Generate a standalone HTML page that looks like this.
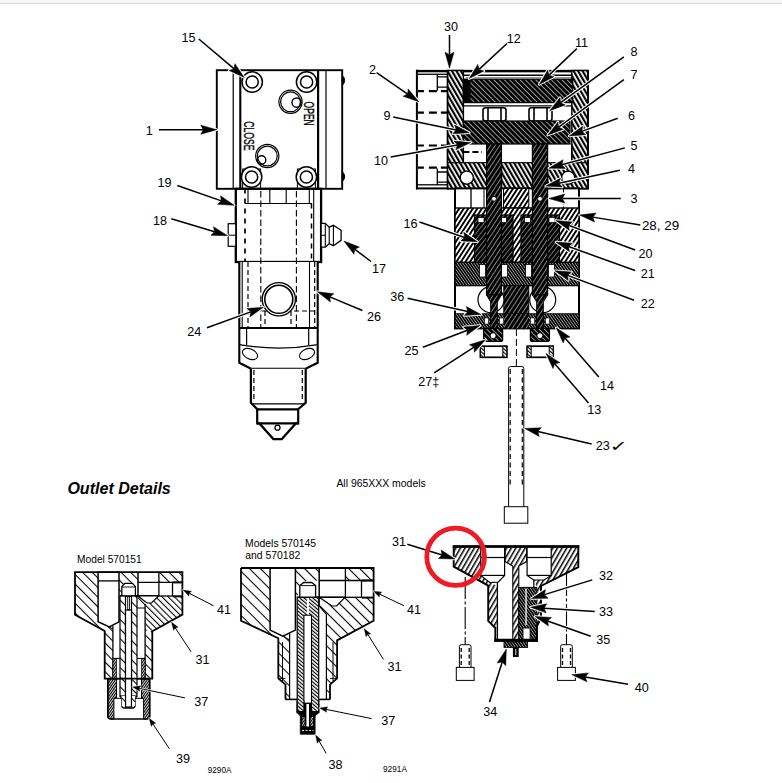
<!DOCTYPE html>
<html lang="en"><head><meta charset="utf-8"><title>Outlet Details</title>
<style>
html,body{margin:0;padding:0;background:#fff;}
body{width:782px;height:783px;overflow:hidden;}
svg{display:block;}
svg text{font-family:"Liberation Sans",Arial,Helvetica,sans-serif;fill:#000;}
</style></head><body>
<svg width="782" height="783" viewBox="0 0 782 783">
<defs>
<pattern id="hl" width="3.8" height="10" patternUnits="userSpaceOnUse" patternTransform="rotate(33)"><rect width="3.8" height="10" fill="#fff"/><rect width="1.9" height="10" fill="#000"/></pattern>
<pattern id="hb" width="3.9" height="10" patternUnits="userSpaceOnUse" patternTransform="rotate(-30)"><rect width="3.9" height="10" fill="#fff"/><rect width="2.15" height="10" fill="#000"/></pattern>
<pattern id="hd" width="3.7" height="10" patternUnits="userSpaceOnUse" patternTransform="rotate(-45)"><rect width="3.7" height="10" fill="#000"/><rect width="0.58" height="10" fill="#fff"/></pattern>
<pattern id="hd2" width="3.8" height="10" patternUnits="userSpaceOnUse" patternTransform="rotate(33)"><rect width="3.8" height="10" fill="#000"/><rect width="0.5" height="10" fill="#fff"/></pattern>
<pattern id="hd4" width="3.6" height="10" patternUnits="userSpaceOnUse" patternTransform="rotate(38)"><rect width="3.6" height="10" fill="#000"/><rect width="0.42" height="10" fill="#fff"/></pattern>
<pattern id="hd3" width="2.3" height="10" patternUnits="userSpaceOnUse" patternTransform="rotate(-35)"><rect width="2.3" height="10" fill="#000"/><rect width="0.5" height="10" fill="#fff"/></pattern>
<pattern id="ho" width="6.8" height="10" patternUnits="userSpaceOnUse" patternTransform="rotate(-45)"><rect width="6.8" height="10" fill="#fff"/><rect width="1.05" height="10" fill="#000"/></pattern>
<pattern id="hf" width="4" height="10" patternUnits="userSpaceOnUse" patternTransform="rotate(30)"><rect width="4" height="10" fill="#fff"/><rect width="1.5" height="10" fill="#000"/></pattern>
<pattern id="ho2" width="4.4" height="10" patternUnits="userSpaceOnUse" patternTransform="rotate(-45)"><rect width="4.4" height="10" fill="#fff"/><rect width="1.05" height="10" fill="#000"/></pattern>
<pattern id="ho3" width="7.8" height="10" patternUnits="userSpaceOnUse" patternTransform="rotate(-45)"><rect width="7.8" height="10" fill="#fff"/><rect width="1.05" height="10" fill="#000"/></pattern>
<pattern id="ht" width="2.8" height="10" patternUnits="userSpaceOnUse" patternTransform="rotate(-50)"><rect width="2.8" height="10" fill="#fff"/><rect width="1.15" height="10" fill="#000"/></pattern>
<pattern id="hn" width="2" height="10" patternUnits="userSpaceOnUse" patternTransform="rotate(35)"><rect width="2" height="10" fill="#fff"/><rect width="1.15" height="10" fill="#000"/></pattern>
</defs>
<rect x="0" y="0" width="782" height="783" fill="#fff"/>
<rect x="0" y="0" width="782" height="3" fill="#f7f7f7"/>
<rect x="0" y="3" width="782" height="1" fill="#d8d8d8"/>
<g id="left-view">
<rect x="216.8" y="70.2" width="125.4" height="118.6" fill="#fff" stroke="#000" stroke-width="1.9"/>
<line x1="233.2" y1="70" x2="233.2" y2="188.5" stroke="#000" stroke-width="1.2" stroke-linecap="butt"/>
<line x1="240.3" y1="70" x2="240.3" y2="188.5" stroke="#000" stroke-width="2.1" stroke-linecap="butt"/>
<line x1="318.1" y1="70" x2="318.1" y2="188.5" stroke="#000" stroke-width="2.2" stroke-linecap="butt"/>
<line x1="326" y1="70" x2="326" y2="188.5" stroke="#000" stroke-width="1.2" stroke-linecap="butt"/>
<path d="M342.2,75.3 q5,5 0,10.3 z" fill="#000" stroke="#000" stroke-width="1"/>
<path d="M342.2,171.5 q5,5 0,10.3 z" fill="#000" stroke="#000" stroke-width="1"/>
<circle cx="252.2" cy="82" r="10.2" fill="#fff" stroke="#000" stroke-width="1.5"/>
<circle cx="252.2" cy="82" r="6.1" fill="none" stroke="#000" stroke-width="1.5"/>
<circle cx="306.6" cy="82" r="10.2" fill="#fff" stroke="#000" stroke-width="1.5"/>
<circle cx="306.6" cy="82" r="6.1" fill="none" stroke="#000" stroke-width="1.5"/>
<rect x="242.6" y="169" width="18" height="19.5" fill="none" stroke="#000" stroke-width="1.0"/>
<circle cx="251.6" cy="177" r="10.2" fill="#fff" stroke="#000" stroke-width="1.5"/>
<circle cx="251.6" cy="177" r="6.1" fill="none" stroke="#000" stroke-width="1.5"/>
<rect x="297.4" y="169" width="18" height="19.5" fill="none" stroke="#000" stroke-width="1.0"/>
<circle cx="306.4" cy="177" r="10.2" fill="#fff" stroke="#000" stroke-width="1.5"/>
<circle cx="306.4" cy="177" r="6.1" fill="none" stroke="#000" stroke-width="1.5"/>
<circle cx="290.5" cy="101.8" r="11.6" fill="none" stroke="#000" stroke-width="1.2"/>
<circle cx="290.5" cy="101.8" r="9.9" fill="none" stroke="#000" stroke-width="1.2"/>
<circle cx="296.6" cy="102.6" r="4.6" fill="none" stroke="#000" stroke-width="1.4"/>
<circle cx="267.3" cy="156" r="11.6" fill="none" stroke="#000" stroke-width="1.2"/>
<circle cx="267.3" cy="156" r="9.9" fill="none" stroke="#000" stroke-width="1.2"/>
<circle cx="261.6" cy="160" r="4.2" fill="none" stroke="#000" stroke-width="1.4"/>
<text transform="translate(304.2,101.6) rotate(90) scale(0.6,1)" font-size="14.2" stroke="#000" stroke-width="0.35">OPEN</text>
<text transform="translate(244.2,121.2) rotate(90) scale(0.61,1)" font-size="14.2" stroke="#000" stroke-width="0.35">CLOSE</text>
<rect x="235.8" y="188.8" width="85.3" height="73.2" fill="#fff" stroke="#000" stroke-width="2.3"/>
<line x1="245" y1="188.5" x2="245" y2="262" stroke="#000" stroke-width="1.7" stroke-dasharray="5 5" stroke-linecap="butt"/>
<line x1="311.5" y1="203.5" x2="311.5" y2="262" stroke="#000" stroke-width="1.5" stroke-dasharray="5 5" stroke-linecap="butt"/>
<line x1="313.7" y1="188.5" x2="313.7" y2="262" stroke="#000" stroke-width="1.1" stroke-linecap="butt"/>
<line x1="245" y1="203.5" x2="312" y2="203.5" stroke="#000" stroke-width="1.2" stroke-linecap="butt"/>
<line x1="248" y1="188.5" x2="248" y2="203.5" stroke="#000" stroke-width="1.1" stroke-linecap="butt"/>
<line x1="269.8" y1="188.5" x2="269.8" y2="203.5" stroke="#000" stroke-width="1.1" stroke-linecap="butt"/>
<line x1="286.2" y1="188.5" x2="286.2" y2="203.5" stroke="#000" stroke-width="1.1" stroke-linecap="butt"/>
<line x1="309.3" y1="188.5" x2="309.3" y2="203.5" stroke="#000" stroke-width="1.1" stroke-linecap="butt"/>
<rect x="228.2" y="223.7" width="7.6" height="22.6" fill="#fff" stroke="#000" stroke-width="1.2"/>
<line x1="228.2" y1="235.2" x2="235.8" y2="235.2" stroke="#000" stroke-width="1.0" stroke-linecap="butt"/>
<path d="M321.1,223.4 H325.3 L329.2,227.2 L333.4,225.3 L341.1,230.3 V240.3 L333.4,245.7 L329.2,243.7 L325.3,247.2 H321.1 z" fill="#fff" stroke="#000" stroke-width="1.3"/>
<path d="M325.3,224 V246.8 M329.2,227.2 V243.7 M333.4,225.3 V245.7 M321.1,235.3 H325.3" fill="none" stroke="#000" stroke-width="1.1"/>
<path d="M239.3,262 V362.8 L250.9,368.8 H305.7 L317.7,362.8 V262" fill="#fff" stroke="#000" stroke-width="2.1"/>
<line x1="242.2" y1="262" x2="242.2" y2="328" stroke="#000" stroke-width="1.1" stroke-linecap="butt"/>
<line x1="248" y1="262" x2="248" y2="328" stroke="#000" stroke-width="1.2" stroke-dasharray="5 3" stroke-linecap="butt"/>
<line x1="246.6" y1="328" x2="246.6" y2="345" stroke="#000" stroke-width="1.2" stroke-linecap="butt"/>
<line x1="309.5" y1="262" x2="309.5" y2="328" stroke="#000" stroke-width="1.1" stroke-linecap="butt"/>
<line x1="308.7" y1="328" x2="308.7" y2="345" stroke="#000" stroke-width="1.2" stroke-linecap="butt"/>
<line x1="314.7" y1="262" x2="314.7" y2="328" stroke="#000" stroke-width="1.2" stroke-dasharray="5 3" stroke-linecap="butt"/>
<line x1="262" y1="311" x2="315" y2="311" stroke="#000" stroke-width="1.2" stroke-dasharray="5 3" stroke-linecap="butt"/>
<line x1="265" y1="311" x2="265" y2="328" stroke="#000" stroke-width="1.2" stroke-dasharray="5 3" stroke-linecap="butt"/>
<line x1="291" y1="311" x2="291" y2="328" stroke="#000" stroke-width="1.2" stroke-dasharray="5 3" stroke-linecap="butt"/>
<line x1="260.8" y1="191" x2="260.8" y2="328" stroke="#000" stroke-width="1.1" stroke-dasharray="6.5 3" stroke-linecap="butt"/>
<line x1="296.4" y1="191" x2="296.4" y2="328" stroke="#000" stroke-width="1.1" stroke-dasharray="6.5 3" stroke-linecap="butt"/>
<line x1="239.3" y1="328" x2="317.7" y2="328" stroke="#000" stroke-width="1.9" stroke-linecap="butt"/>
<circle cx="278.8" cy="299.3" r="16.6" fill="#fff" stroke="#000" stroke-width="1.3"/>
<circle cx="278.8" cy="299.3" r="14" fill="none" stroke="#000" stroke-width="1.6"/>
<path d="M239.3,344.6 Q278.5,351.5 317.7,344.6" fill="none" stroke="#000" stroke-width="1.2"/>
<ellipse cx="250" cy="354" rx="8" ry="5" transform="rotate(25 250 354)" fill="#fff" stroke="#000" stroke-width="1.1"/>
<ellipse cx="307" cy="354" rx="8" ry="5" transform="rotate(-25 307 354)" fill="#fff" stroke="#000" stroke-width="1.1"/>
<path d="M250.9,368.8 V402.7 L257.2,409.2 V423.4 H259.4 L273.4,439.1 H281.8 L295.8,423.4 H298.2 V409.2 L305.7,402.7 V368.8" fill="#fff" stroke="#000" stroke-width="2.2"/>
<line x1="253.9" y1="370" x2="253.9" y2="402" stroke="#000" stroke-width="1.2" stroke-dasharray="5 3" stroke-linecap="butt"/>
<line x1="302.3" y1="370" x2="302.3" y2="402" stroke="#000" stroke-width="1.2" stroke-dasharray="5 3" stroke-linecap="butt"/>
<line x1="252" y1="403.9" x2="304.6" y2="403.9" stroke="#000" stroke-width="1.3" stroke-linecap="butt"/>
<line x1="256.5" y1="409.3" x2="299" y2="409.3" stroke="#000" stroke-width="2.3" stroke-linecap="butt"/>
<line x1="257" y1="423.3" x2="298.5" y2="423.3" stroke="#000" stroke-width="2.3" stroke-linecap="butt"/>
<circle cx="277.5" cy="427.7" r="2.5" fill="#fff" stroke="#000" stroke-width="1.3"/>
</g>
<g id="section-view">
<rect x="416.9" y="70.7" width="31" height="117.7" fill="#fff"/>
<line x1="416.9" y1="69.7" x2="416.9" y2="189.4" stroke="#000" stroke-width="2.0" stroke-linecap="butt"/>
<line x1="416" y1="71.1" x2="448" y2="71.1" stroke="#000" stroke-width="2.4" stroke-linecap="butt"/>
<line x1="416" y1="188.4" x2="448" y2="188.4" stroke="#000" stroke-width="2.0" stroke-linecap="butt"/>
<line x1="417" y1="74.3" x2="447.9" y2="74.3" stroke="#000" stroke-width="1.3" stroke-linecap="butt"/>
<line x1="417" y1="184.8" x2="447.9" y2="184.8" stroke="#000" stroke-width="1.3" stroke-linecap="butt"/>
<path d="M437.3,74.3 V90.7 M437.3,76.9 H447.9 M437.3,87.1 H447.9" fill="none" stroke="#000" stroke-width="1.3"/>
<path d="M437.3,184.8 V168.4 M437.3,182.2 H447.9 M437.3,172 H447.9" fill="none" stroke="#000" stroke-width="1.3"/>
<line x1="417.9" y1="91.2" x2="447.5" y2="91.2" stroke="#000" stroke-width="2.2" stroke-dasharray="6 5 8 4 7 4" stroke-linecap="butt"/>
<line x1="417.9" y1="112.7" x2="447.5" y2="112.7" stroke="#000" stroke-width="2.2" stroke-dasharray="6 5 8 4 7 4" stroke-linecap="butt"/>
<line x1="417.9" y1="145.5" x2="447.5" y2="145.5" stroke="#000" stroke-width="2.2" stroke-dasharray="6 5 8 4 7 4" stroke-linecap="butt"/>
<line x1="417.9" y1="167.7" x2="447.5" y2="167.7" stroke="#000" stroke-width="2.2" stroke-dasharray="6 5 8 4 7 4" stroke-linecap="butt"/>
<rect x="447.9" y="71.1" width="139.8" height="117.3" fill="#fff" stroke="#000" stroke-width="2.5"/>
<rect x="447.7" y="70.5" width="15.7" height="117.9" fill="url(#hb)" stroke="#000" stroke-width="1.4"/>
<rect x="571.8" y="70.5" width="15.9" height="117.9" fill="url(#hb)" stroke="#000" stroke-width="1.4"/>
<line x1="463.4" y1="75.3" x2="571.8" y2="75.3" stroke="#000" stroke-width="1.4" stroke-linecap="butt"/>
<line x1="466" y1="77.8" x2="571.8" y2="77.8" stroke="#000" stroke-width="0.6" stroke-linecap="butt"/>
<rect x="463.4" y="79.2" width="109.4" height="23.4" fill="url(#hd)" stroke="#000" stroke-width="1.2"/>
<rect x="463.4" y="79.2" width="7.1" height="23.4" fill="#000"/>
<line x1="463.4" y1="105.9" x2="571.8" y2="105.9" stroke="#000" stroke-width="1.3" stroke-linecap="butt"/>
<rect x="483" y="107.8" width="23" height="13.2" fill="#fff" stroke="#000" stroke-width="1.6" rx="2.5"/>
<line x1="488" y1="108" x2="488" y2="121" stroke="#000" stroke-width="1.6" stroke-linecap="butt"/>
<line x1="501" y1="108" x2="501" y2="121" stroke="#000" stroke-width="1.6" stroke-linecap="butt"/>
<rect x="529" y="107.8" width="23" height="13.2" fill="#fff" stroke="#000" stroke-width="1.6" rx="2.5"/>
<line x1="534" y1="108" x2="534" y2="121" stroke="#000" stroke-width="1.6" stroke-linecap="butt"/>
<line x1="547" y1="108" x2="547" y2="121" stroke="#000" stroke-width="1.6" stroke-linecap="butt"/>
<rect x="463.4" y="121" width="106.6" height="23" fill="url(#hd)" stroke="#000" stroke-width="1.2"/>
<rect x="447.7" y="162.7" width="39.1" height="25.7" fill="url(#hb)" stroke="#000" stroke-width="1.2"/>
<rect x="501.7" y="162.7" width="31" height="25.7" fill="url(#hb)" stroke="#000" stroke-width="1.2"/>
<rect x="547.6" y="162.7" width="40.1" height="25.7" fill="url(#hb)" stroke="#000" stroke-width="1.2"/>
<line x1="463.4" y1="144" x2="463.4" y2="162.7" stroke="#000" stroke-width="1.2" stroke-linecap="butt"/>
<line x1="571.8" y1="144" x2="571.8" y2="162.7" stroke="#000" stroke-width="1.2" stroke-linecap="butt"/>
<line x1="463.4" y1="152" x2="482" y2="152" stroke="#000" stroke-width="1.8" stroke-dasharray="6 3" stroke-linecap="butt"/>
<circle cx="466.8" cy="177.7" r="6.6" fill="#fff" stroke="#000" stroke-width="1.4"/>
<circle cx="568.2" cy="177.7" r="6.6" fill="#fff" stroke="#000" stroke-width="1.4"/>
<rect x="455" y="188.4" width="124" height="140" fill="#fff" stroke="#000" stroke-width="2.0"/>
<line x1="471" y1="188.4" x2="471" y2="208" stroke="#000" stroke-width="1.3" stroke-linecap="butt"/>
<line x1="484" y1="188.4" x2="484" y2="208" stroke="#000" stroke-width="1.0" stroke-linecap="butt"/>
<line x1="563.5" y1="188.4" x2="563.5" y2="208" stroke="#000" stroke-width="1.0" stroke-dasharray="4 2" stroke-linecap="butt"/>
<rect x="503.5" y="188.4" width="25.3" height="19.6" fill="url(#hl)" stroke="#000" stroke-width="1.0"/>
<rect x="455" y="208" width="124" height="54.4" fill="url(#hl)" stroke="#000" stroke-width="1.4"/>
<rect x="474.5" y="215" width="38.5" height="47.4" fill="url(#hd4)" stroke="#000" stroke-width="1.2"/>
<rect x="521" y="215" width="38.5" height="47.4" fill="url(#hd4)" stroke="#000" stroke-width="1.2"/>
<rect x="478" y="217.5" width="6" height="5" fill="#fff" stroke="#000" stroke-width="0.8"/>
<rect x="500.5" y="217.5" width="6" height="5" fill="#fff" stroke="#000" stroke-width="0.8"/>
<rect x="524.5" y="217.5" width="6" height="5" fill="#fff" stroke="#000" stroke-width="0.8"/>
<rect x="549" y="217.5" width="6" height="5" fill="#fff" stroke="#000" stroke-width="0.8"/>
<rect x="455" y="262.4" width="124" height="23.3" fill="url(#hd3)" stroke="#000" stroke-width="1.2"/>
<rect x="479.5" y="264.5" width="6" height="12.5" fill="#fff" stroke="#000" stroke-width="0.8"/>
<rect x="501.5" y="264.5" width="6" height="12.5" fill="#fff" stroke="#000" stroke-width="0.8"/>
<rect x="525.5" y="264.5" width="6" height="12.5" fill="#fff" stroke="#000" stroke-width="0.8"/>
<rect x="548.5" y="264.5" width="6" height="12.5" fill="#fff" stroke="#000" stroke-width="0.8"/>
<rect x="503.8" y="285.7" width="25" height="28.1" fill="url(#hd2)" stroke="#000" stroke-width="1.0"/>
<circle cx="491" cy="299.7" r="13" fill="#fff" stroke="#000" stroke-width="1.2"/>
<circle cx="542.7" cy="299.7" r="13" fill="#fff" stroke="#000" stroke-width="1.2"/>
<rect x="455" y="313.8" width="124" height="14.6" fill="url(#hd3)" stroke="#000" stroke-width="1.0"/>
<rect x="503.8" y="313.8" width="25" height="14.6" fill="url(#hd2)"/>
<rect x="486.6" y="144" width="14.8" height="151" fill="url(#hd2)" stroke="#000" stroke-width="1.2"/>
<polygon points="486.6,295 501.4,295 497.3,302 497.3,328.4 490.7,328.4 490.7,302" fill="url(#hd2)" stroke="#000" stroke-width="1.0" stroke-linejoin="miter"/>
<circle cx="494" cy="198.8" r="2.4" fill="#fff" stroke="#000" stroke-width="0.8"/>
<rect x="484.5" y="318" width="4" height="6" fill="#fff" stroke="#000" stroke-width="0.6"/>
<rect x="499.5" y="318" width="4" height="6" fill="#fff" stroke="#000" stroke-width="0.6"/>
<rect x="532.4" y="144" width="15.2" height="151" fill="url(#hd2)" stroke="#000" stroke-width="1.2"/>
<polygon points="532.4,295 547.6,295 543.3,302 543.3,328.4 536.7,328.4 536.7,302" fill="url(#hd2)" stroke="#000" stroke-width="1.0" stroke-linejoin="miter"/>
<circle cx="540" cy="198.8" r="2.4" fill="#fff" stroke="#000" stroke-width="0.8"/>
<rect x="530.5" y="318" width="4" height="6" fill="#fff" stroke="#000" stroke-width="0.6"/>
<rect x="545.5" y="318" width="4" height="6" fill="#fff" stroke="#000" stroke-width="0.6"/>
<rect x="483.6" y="328.4" width="19" height="13" fill="url(#hd)" stroke="#000" stroke-width="1.3" rx="1.5"/>
<circle cx="493.1" cy="335.7" r="3" fill="#fff" stroke="#000" stroke-width="1.0"/>
<rect x="530.4" y="328.4" width="19" height="13" fill="url(#hd)" stroke="#000" stroke-width="1.3" rx="1.5"/>
<circle cx="539.9" cy="335.7" r="3" fill="#fff" stroke="#000" stroke-width="1.0"/>
<rect x="480.4" y="346.2" width="26.4" height="11.1" fill="#fff" stroke="#000" stroke-width="1.7"/>
<rect x="480.4" y="346.2" width="4" height="11.1" fill="url(#ht)" stroke="#000" stroke-width="1.0"/>
<rect x="502.8" y="346.2" width="4" height="11.1" fill="url(#ht)" stroke="#000" stroke-width="1.0"/>
<rect x="527.2" y="346.2" width="26" height="11.1" fill="#fff" stroke="#000" stroke-width="1.7"/>
<rect x="527.2" y="346.2" width="4" height="11.1" fill="url(#ht)" stroke="#000" stroke-width="1.0"/>
<rect x="549.2" y="346.2" width="4" height="11.1" fill="url(#ht)" stroke="#000" stroke-width="1.0"/>
<line x1="516.4" y1="329" x2="516.4" y2="366.5" stroke="#000" stroke-width="1.0" stroke-dasharray="7 3" stroke-linecap="butt"/>
<path d="M508.6,506.7 V368.5 q0,-2 2,-2 H521.8 q2,0 2,2 V506.7" fill="#fff" stroke="#000" stroke-width="1.0"/>
<line x1="510.2" y1="369" x2="510.2" y2="486" stroke="#000" stroke-width="1.2" stroke-dasharray="5 3.5" stroke-linecap="butt"/>
<line x1="522.3" y1="369" x2="522.3" y2="486" stroke="#000" stroke-width="1.2" stroke-dasharray="5 3.5" stroke-linecap="butt"/>
<rect x="504.3" y="506.7" width="23.5" height="16.5" fill="#fff" stroke="#000" stroke-width="1.0"/>
</g>
<g id="outlet-c">
<polygon points="453.7,546.5 578.3,546.5 578.3,567.2 541,586 541,618 537,626 537,640.8 495.3,640.8 495.3,628 488.2,620.8 488.2,585.6 453.7,566.7" fill="#fff"/>
<polygon points="453.7,546.5 480.8,546.5 480.8,575.4 490,582.6 497.4,586 497.4,628 495.3,628 488.2,620.8 488.2,585.6 453.7,566.7" fill="url(#hf)"/>
<polygon points="505.1,546.5 526.6,546.5 526.6,561.6 518.8,566 518.8,640 512.8,640 512.8,566 505.1,561.6" fill="url(#hf)" stroke="#000" stroke-width="1.1" stroke-linejoin="miter"/>
<polygon points="551.2,546.5 578.3,546.5 578.3,567.2 541,586 541,618 537,626 537,588 533.8,580 544,578 551.2,575.4" fill="url(#hf)"/>
<polygon points="480.8,546.5 504.6,546.5 504.6,575.4 498.4,582 490,582.6 480.8,575.4" fill="#fff" stroke="#000" stroke-width="1.2" stroke-linejoin="miter"/>
<line x1="480.8" y1="557.5" x2="504.6" y2="557.5" stroke="#000" stroke-width="1.2" stroke-linecap="butt"/>
<line x1="480.8" y1="575.4" x2="504.6" y2="575.4" stroke="#000" stroke-width="1.2" stroke-linecap="butt"/>
<line x1="497.4" y1="582" x2="497.4" y2="639" stroke="#000" stroke-width="1.3" stroke-linecap="butt"/>
<polygon points="527.1,546.5 551.2,546.5 551.2,575.4 544,580 533.8,580 527.1,575.4" fill="#fff" stroke="#000" stroke-width="1.2" stroke-linejoin="miter"/>
<line x1="527.1" y1="557.5" x2="551.2" y2="557.5" stroke="#000" stroke-width="1.2" stroke-linecap="butt"/>
<line x1="527.1" y1="575.4" x2="551.2" y2="575.4" stroke="#000" stroke-width="1.2" stroke-linecap="butt"/>
<line x1="533.8" y1="580" x2="533.8" y2="588" stroke="#000" stroke-width="1.2" stroke-linecap="butt"/>
<rect x="518.8" y="587.4" width="18" height="53.1" fill="url(#hd3)" stroke="#000" stroke-width="1.0"/>
<rect x="525.4" y="588.5" width="1.3" height="36.5" fill="#fff"/>
<rect x="523" y="628" width="7.1" height="12.2" fill="#fff" stroke="#000" stroke-width="0.9"/>
<polygon points="453.7,546.5 578.3,546.5 578.3,567.2 541,586 541,618 537,626 537,640.8 495.3,640.8 495.3,628 488.2,620.8 488.2,585.6 453.7,566.7" fill="none" stroke="#000" stroke-width="1.9" stroke-linejoin="miter"/>
<line x1="452.7" y1="546.5" x2="579.3" y2="546.5" stroke="#000" stroke-width="2.6" stroke-linecap="butt"/>
<line x1="494.3" y1="640.2" x2="538" y2="640.2" stroke="#000" stroke-width="3.0" stroke-linecap="butt"/>
<rect x="504" y="641.8" width="23.6" height="5.6" fill="url(#hd3)" stroke="#000" stroke-width="0.9"/>
<rect x="512.9" y="647.4" width="5.8" height="9.6" fill="#000"/>
<line x1="515.8" y1="649" x2="515.8" y2="655" stroke="#fff" stroke-width="0.9" stroke-linecap="butt"/>
<line x1="465.2" y1="577" x2="465.2" y2="644.5" stroke="#000" stroke-width="1.1" stroke-dasharray="22 2.5 3 2.5" stroke-linecap="butt"/>
<line x1="566.5" y1="574" x2="566.5" y2="644.5" stroke="#000" stroke-width="1.1" stroke-dasharray="22 2.5 3 2.5" stroke-linecap="butt"/>
<path d="M459.4,667.4 V646.5 q0,-1.8 1.8,-1.8 H469.2 q1.8,0 1.8,1.8 V667.4" fill="#fff" stroke="#000" stroke-width="1.0"/>
<line x1="461.2" y1="648" x2="461.2" y2="666" stroke="#000" stroke-width="1.3" stroke-dasharray="4 2.5" stroke-linecap="butt"/>
<line x1="469.2" y1="648" x2="469.2" y2="666" stroke="#000" stroke-width="1.3" stroke-dasharray="4 2.5" stroke-linecap="butt"/>
<rect x="456.3" y="667.4" width="17.8" height="13" fill="#fff" stroke="#000" stroke-width="1.0"/>
<path d="M560.7,667.4 V646.5 q0,-1.8 1.8,-1.8 H570.5 q1.8,0 1.8,1.8 V667.4" fill="#fff" stroke="#000" stroke-width="1.0"/>
<line x1="562.5" y1="648" x2="562.5" y2="666" stroke="#000" stroke-width="1.3" stroke-dasharray="4 2.5" stroke-linecap="butt"/>
<line x1="570.5" y1="648" x2="570.5" y2="666" stroke="#000" stroke-width="1.3" stroke-dasharray="4 2.5" stroke-linecap="butt"/>
<rect x="557.6" y="667.4" width="17.8" height="13" fill="#fff" stroke="#000" stroke-width="1.0"/>
</g>
<g id="outlet-a">
<polygon points="75,572.2 182.4,572.2 182.4,614.6 152.3,631.3 152.3,678.7 104.7,678.7 104.7,631 75,614.8" fill="#fff"/>
<polygon points="75,572.2 98.1,572.2 98.1,621.8 109.3,626.9 112.9,625.5 112.9,678.7 104.7,678.7 104.7,631 75,614.8" fill="url(#ho)"/>
<polygon points="119,572.2 138,572.2 138,582.4 126,583.4 122,587 120,596 119,596" fill="url(#ho)"/>
<rect x="158.9" y="572.2" width="23.5" height="10" fill="url(#ho)"/>
<polygon points="138,596 182.4,596 182.4,614.6 152.3,631.3 145.1,631.3 145.1,610 140,603 138,600" fill="url(#ho2)"/>
<rect x="145.1" y="631.3" width="7.2" height="47.4" fill="url(#ho)"/>
<polygon points="98.1,572.2 119,572.2 119,621.8 109.3,626.9 98.1,621.8" fill="#fff" stroke="#000" stroke-width="1.5" stroke-linejoin="miter"/>
<line x1="98.1" y1="580.9" x2="119" y2="580.9" stroke="#000" stroke-width="1.3" stroke-linecap="butt"/>
<line x1="112.9" y1="626" x2="112.9" y2="678.7" stroke="#000" stroke-width="1.3" stroke-linecap="butt"/>
<line x1="109.3" y1="626.9" x2="112.9" y2="629" stroke="#000" stroke-width="1.0" stroke-linecap="butt"/>
<line x1="138" y1="572.2" x2="138" y2="596" stroke="#000" stroke-width="1.5" stroke-linecap="butt"/>
<line x1="158.9" y1="572.2" x2="158.9" y2="596" stroke="#000" stroke-width="1.3" stroke-linecap="butt"/>
<line x1="138" y1="582.4" x2="182.4" y2="582.4" stroke="#000" stroke-width="1.3" stroke-linecap="butt"/>
<line x1="172.5" y1="582.4" x2="172.5" y2="596" stroke="#000" stroke-width="1.3" stroke-linecap="butt"/>
<line x1="172.5" y1="582.4" x2="182.4" y2="582.4" stroke="#000" stroke-width="2.0" stroke-linecap="butt"/>
<line x1="172.5" y1="596.3" x2="182.4" y2="596.3" stroke="#000" stroke-width="2.0" stroke-linecap="butt"/>
<line x1="120" y1="596" x2="158.9" y2="596" stroke="#000" stroke-width="1.8" stroke-linecap="butt"/>
<line x1="158.9" y1="596" x2="172.5" y2="596" stroke="#000" stroke-width="1.3" stroke-linecap="butt"/>
<polygon points="138,596 158.6,596 151.5,603 147,603" fill="#fff" stroke="#000" stroke-width="1.2" stroke-linejoin="miter"/>
<path d="M121.8,596 V586.5 l3,-3.1 h7.6 l3,3.1 V596 z" fill="#fff" stroke="#000" stroke-width="1.3"/>
<line x1="122" y1="587" x2="135.4" y2="587" stroke="#000" stroke-width="0.9" stroke-linecap="butt"/>
<path d="M107.8,678.7 H149.7 V716 q0,3 -3,3 H110.8 q-3,0 -3,-3 z" fill="#fff"/>
<path d="M107.8,678.7 H116.5 V698.3 H113.9 V719 H110.8 q-3,0 -3,-3 z" fill="url(#hn)" stroke="#000" stroke-width="1.0"/>
<path d="M149.7,678.7 H141.5 V698.3 H143.6 V719 H146.7 q3,0 3,-3 z" fill="url(#hn)" stroke="#000" stroke-width="1.0"/>
<path d="M107.8,678.7 H149.7 V716 q0,3 -3,3 H110.8 q-3,0 -3,-3 z" fill="none" stroke="#000" stroke-width="1.6"/>
<line x1="113.9" y1="698.3" x2="121" y2="698.3" stroke="#000" stroke-width="1.0" stroke-linecap="butt"/>
<line x1="136" y1="698.3" x2="143.6" y2="698.3" stroke="#000" stroke-width="1.0" stroke-linecap="butt"/>
<line x1="116.5" y1="679" x2="116.5" y2="698" stroke="#000" stroke-width="0.9" stroke-dasharray="3 2" stroke-linecap="butt"/>
<line x1="141.5" y1="679" x2="141.5" y2="698" stroke="#000" stroke-width="0.9" stroke-dasharray="3 2" stroke-linecap="butt"/>
<line x1="114.5" y1="709.5" x2="117.5" y2="709.5" stroke="#fff" stroke-width="1.0" stroke-linecap="butt"/>
<line x1="140" y1="709.5" x2="143" y2="709.5" stroke="#fff" stroke-width="1.0" stroke-linecap="butt"/>
<rect x="120" y="596" width="5.5" height="100" fill="url(#ho)" stroke="#000" stroke-width="1.2"/>
<rect x="131.5" y="596" width="5.5" height="100" fill="url(#ho)" stroke="#000" stroke-width="1.2"/>
<rect x="125.5" y="610" width="6" height="97" fill="#fff" stroke="#000" stroke-width="1.2"/>
<rect x="127.7" y="596.5" width="1.7" height="13.5" fill="#fff" stroke="#000" stroke-width="0.9"/>
<line x1="137" y1="608" x2="145.1" y2="608" stroke="#000" stroke-width="1.0" stroke-linecap="butt"/>
<line x1="145.1" y1="604" x2="145.1" y2="678.7" stroke="#000" stroke-width="1.3" stroke-linecap="butt"/>
<path d="M120,696 L121.8,699 V705.5 q0,2.5 2.5,2.5 H132.5 q2.5,0 2.5,-2.5 V699 L137,696" fill="none" stroke="#000" stroke-width="1.3"/>
<rect x="121.8" y="696" width="3.7" height="10" fill="url(#ho)"/>
<rect x="131.5" y="696" width="3.5" height="10" fill="url(#ho)"/>
<line x1="125.5" y1="696" x2="125.5" y2="707" stroke="#000" stroke-width="1.1" stroke-linecap="butt"/>
<line x1="131.5" y1="696" x2="131.5" y2="707" stroke="#000" stroke-width="1.1" stroke-linecap="butt"/>
<rect x="112.9" y="658.4" width="3.6" height="20.3" fill="url(#hn)" stroke="#000" stroke-width="0.7"/>
<rect x="141.5" y="658.4" width="3.6" height="20.3" fill="url(#hn)" stroke="#000" stroke-width="0.7"/>
<line x1="112.9" y1="658.4" x2="120" y2="658.4" stroke="#000" stroke-width="1.0" stroke-linecap="butt"/>
<line x1="137" y1="658.4" x2="145.1" y2="658.4" stroke="#000" stroke-width="1.0" stroke-linecap="butt"/>
<polygon points="75,572.2 182.4,572.2 182.4,614.6 152.3,631.3 152.3,678.7 104.7,678.7 104.7,631 75,614.8" fill="none" stroke="#000" stroke-width="1.8" stroke-linejoin="miter"/>
</g>
<g id="outlet-b">
<polygon points="241,568 373.6,568 373.6,620.8 337.1,640.4 337.1,678.4 330,684.6 330,699.4 285.5,699.4 285.5,684.6 278.3,678.4 278.3,638.2 241,620.8" fill="#fff"/>
<polygon points="241,568 270.1,568 270.1,630.1 282.9,636.2 289.6,633 289.6,699.4 285.5,699.4 285.5,684.6 278.3,678.4 278.3,638.2 241,620.8" fill="url(#ho3)"/>
<polygon points="295.4,568 319.2,568 319.2,580.5 305,581 299,585.5 297.4,597.3 295.4,597.3" fill="url(#ho3)"/>
<rect x="345.4" y="568" width="28.2" height="12.5" fill="url(#ho3)"/>
<polygon points="319.2,597.3 373.6,597.3 373.6,620.8 337.1,640.4 337.1,678.4 330,684.6 330,699.4 326.4,699.4 326.4,614.2 321,609 319.2,604" fill="url(#ho3)"/>
<polygon points="270.1,568 295.4,568 295.4,630.1 282.9,636.2 270.1,630.1" fill="#fff" stroke="#000" stroke-width="1.5" stroke-linejoin="miter"/>
<line x1="289.6" y1="633" x2="289.6" y2="699.4" stroke="#000" stroke-width="1.2" stroke-linecap="butt"/>
<line x1="282.9" y1="636.2" x2="289.6" y2="640" stroke="#000" stroke-width="1.0" stroke-linecap="butt"/>
<line x1="282.5" y1="642" x2="282.5" y2="681" stroke="#000" stroke-width="1.0" stroke-linecap="butt"/>
<line x1="333" y1="642" x2="333" y2="681" stroke="#000" stroke-width="1.0" stroke-linecap="butt"/>
<line x1="278.3" y1="678.4" x2="285.5" y2="678.4" stroke="#000" stroke-width="0.9" stroke-linecap="butt"/>
<line x1="330" y1="678.4" x2="337.1" y2="678.4" stroke="#000" stroke-width="0.9" stroke-linecap="butt"/>
<line x1="319.2" y1="568" x2="319.2" y2="597.3" stroke="#000" stroke-width="1.5" stroke-linecap="butt"/>
<line x1="345.4" y1="568" x2="345.4" y2="597.3" stroke="#000" stroke-width="1.3" stroke-linecap="butt"/>
<line x1="319.2" y1="580.5" x2="373.6" y2="580.5" stroke="#000" stroke-width="1.3" stroke-linecap="butt"/>
<line x1="361.5" y1="580.5" x2="361.5" y2="597.3" stroke="#000" stroke-width="1.3" stroke-linecap="butt"/>
<line x1="361.5" y1="580.5" x2="373.6" y2="580.5" stroke="#000" stroke-width="2.0" stroke-linecap="butt"/>
<line x1="361.5" y1="597.6" x2="373.6" y2="597.6" stroke="#000" stroke-width="2.0" stroke-linecap="butt"/>
<line x1="297.2" y1="597.3" x2="345.4" y2="597.3" stroke="#000" stroke-width="1.8" stroke-linecap="butt"/>
<line x1="345.4" y1="597.3" x2="361.5" y2="597.3" stroke="#000" stroke-width="1.3" stroke-linecap="butt"/>
<polygon points="319.2,597.3 345,597.3 336.6,606 332,606" fill="#fff" stroke="#000" stroke-width="1.2" stroke-linejoin="miter"/>
<path d="M299.8,597.3 V585.6 l4,-3.1 h7.8 l4,3.1 V597.3 z" fill="#fff" stroke="#000" stroke-width="1.3"/>
<line x1="299.8" y1="585.6" x2="315.6" y2="585.6" stroke="#000" stroke-width="0.9" stroke-linecap="butt"/>
<path d="M319.2,598 V606 L326.4,614.2 V699.4" fill="none" stroke="#000" stroke-width="1.2"/>
<rect x="297.2" y="597.3" width="21.5" height="115.4" fill="url(#ht)" stroke="#000" stroke-width="1.2"/>
<rect x="307" y="598" width="2" height="18" fill="#fff"/>
<rect x="303.9" y="615.2" width="7.6" height="88.8" fill="#fff" stroke="#000" stroke-width="1.1"/>
<path d="M297.2,712.7 V704 H303.9 V703 H311.5 V704 H318.7 V712.7 L315.1,716 V734.2 H300.3 V716 z" fill="#000" stroke="#000" stroke-width="0.8"/>
<rect x="297.2" y="700" width="6.7" height="11" fill="url(#ht)"/>
<rect x="311.5" y="700" width="7.2" height="11" fill="url(#ht)"/>
<line x1="297.2" y1="700" x2="297.2" y2="712.5" stroke="#000" stroke-width="1.2" stroke-linecap="butt"/>
<line x1="318.7" y1="700" x2="318.7" y2="712.5" stroke="#000" stroke-width="1.2" stroke-linecap="butt"/>
<line x1="303.9" y1="700" x2="303.9" y2="712" stroke="#000" stroke-width="1.0" stroke-linecap="butt"/>
<line x1="311.5" y1="700" x2="311.5" y2="712" stroke="#000" stroke-width="1.0" stroke-linecap="butt"/>
<rect x="306.4" y="704" width="2.6" height="22.5" fill="#fff"/>
<rect x="302.3" y="717" width="2.3" height="9" fill="url(#hn)"/>
<rect x="310.6" y="717" width="2.4" height="9" fill="url(#hn)"/>
<line x1="302" y1="730.5" x2="313.5" y2="730.5" stroke="#fff" stroke-width="0.9" stroke-dasharray="2 1.5" stroke-linecap="butt"/>
<polyline points="241,568 373.6,568 373.6,620.8 337.1,640.4 337.1,678.4 330,684.6 330,699.4" fill="none" stroke="#000" stroke-width="1.8" stroke-linejoin="miter"/>
<polyline points="285.5,699.4 285.5,684.6 278.3,678.4 278.3,638.2 241,620.8 241,568" fill="none" stroke="#000" stroke-width="1.8" stroke-linejoin="miter"/>
<line x1="285.5" y1="699.4" x2="297.2" y2="699.4" stroke="#000" stroke-width="1.6" stroke-linecap="butt"/>
<line x1="318.7" y1="699.4" x2="330" y2="699.4" stroke="#000" stroke-width="1.6" stroke-linecap="butt"/>
</g>
<g id="labels">
<text x="181.4" y="41.5" font-size="12.6">15</text>
<text x="145.7" y="134.7" font-size="12.6">1</text>
<text x="157.6" y="186.5" font-size="12.6">19</text>
<text x="153" y="224.8" font-size="12.6">18</text>
<text x="187.3" y="335.7" font-size="12.6">24</text>
<text x="372" y="273.2" font-size="12.6">17</text>
<text x="366.9" y="320.9" font-size="12.6">26</text>
<text x="443.9" y="31" font-size="12.6">30</text>
<text x="506.7" y="43.2" font-size="12.6">12</text>
<text x="574.9" y="46.6" font-size="12.6">11</text>
<text x="369" y="73.9" font-size="12.6">2</text>
<text x="383.5" y="120" font-size="12.6">9</text>
<text x="373.9" y="164.7" font-size="12.6">10</text>
<text x="630.6" y="56.2" font-size="12.6">8</text>
<text x="630.6" y="79.3" font-size="12.6">7</text>
<text x="628" y="119.8" font-size="12.6">6</text>
<text x="630.6" y="149.9" font-size="12.6">5</text>
<text x="628" y="172.7" font-size="12.6">4</text>
<text x="630.6" y="202.6" font-size="12.6">3</text>
<text x="641.9" y="229.6" font-size="12.6" textLength="37.2" lengthAdjust="spacingAndGlyphs">28, 29</text>
<text x="638.6" y="257.8" font-size="12.6">20</text>
<text x="640.7" y="277.6" font-size="12.6">21</text>
<text x="640.7" y="307.7" font-size="12.6">22</text>
<text x="403.6" y="227.6" font-size="12.6">16</text>
<text x="390.2" y="300.7" font-size="12.6">36</text>
<text x="404.5" y="354.5" font-size="12.6">25</text>
<text x="418.2" y="385.5" font-size="12.6">27‡</text>
<text x="599.9" y="389.8" font-size="12.6">14</text>
<text x="587.2" y="413.7" font-size="12.6">13</text>
<text x="595.7" y="450.2" font-size="12.6">23</text>
<text transform="translate(609.4,450.6) scale(1.5,1)" font-size="14.5" style="font-family:'DejaVu Sans',sans-serif">✓</text>
<text x="67.4" y="493.8" font-size="16" font-weight="bold" font-style="italic" textLength="103.4" lengthAdjust="spacingAndGlyphs">Outlet Details</text>
<text x="336.4" y="487" font-size="10.4" textLength="89.4" lengthAdjust="spacingAndGlyphs">All 965XXX models</text>
<text x="77.1" y="562.8" font-size="10.4" textLength="64.6" lengthAdjust="spacingAndGlyphs">Model 570151</text>
<text x="245.1" y="546.6" font-size="10.4">Models 570145</text>
<text x="245.3" y="558.6" font-size="10.4">and 570182</text>
<text x="391.9" y="545.5" font-size="12.6">31</text>
<text x="598.9" y="579.9" font-size="12.6">32</text>
<text x="598.9" y="615.7" font-size="12.6">33</text>
<text x="596.2" y="644.4" font-size="12.6">35</text>
<text x="634.7" y="691.8" font-size="12.6">40</text>
<text x="483.3" y="715.7" font-size="12.6">34</text>
<text x="217.1" y="613.6" font-size="12.6">41</text>
<text x="195.6" y="663.7" font-size="12.6">31</text>
<text x="194.2" y="706" font-size="12.6">37</text>
<text x="176.1" y="762.6" font-size="12.6">39</text>
<text x="207.8" y="773" font-size="8.3" textLength="23.6" lengthAdjust="spacingAndGlyphs">9290A</text>
<text x="407" y="613.8" font-size="12.6">41</text>
<text x="387.4" y="670.7" font-size="12.6">31</text>
<text x="381.2" y="725.3" font-size="12.6">37</text>
<text x="328.6" y="769.3" font-size="12.6">38</text>
<text x="383" y="772.1" font-size="8.3" textLength="24" lengthAdjust="spacingAndGlyphs">9291A</text>
<g id="arrow-halos">
<line x1="198.8" y1="39" x2="233.92" y2="68.69" stroke="#fff" stroke-width="3.5"/>
<polygon points="244.24,77.41 229.12,70.52 233.92,68.69 234.93,63.65" fill="#fff" stroke="#fff" stroke-width="2.5" stroke-linejoin="round"/>
<line x1="158.9" y1="129.7" x2="203.29" y2="129.7" stroke="#fff" stroke-width="3.5"/>
<polygon points="216.8,129.7 200.8,134.2 203.29,129.7 200.8,125.2" fill="#fff" stroke="#fff" stroke-width="2.5" stroke-linejoin="round"/>
<line x1="177.3" y1="185.5" x2="221.38" y2="200.86" stroke="#fff" stroke-width="3.5"/>
<polygon points="234.13,205.3 217.54,204.29 221.38,200.86 220.5,195.79" fill="#fff" stroke="#fff" stroke-width="2.5" stroke-linejoin="round"/>
<line x1="171.3" y1="218.8" x2="214.58" y2="231.75" stroke="#fff" stroke-width="3.5"/>
<polygon points="227.53,235.63 210.91,235.35 214.58,231.75 213.49,226.73" fill="#fff" stroke="#fff" stroke-width="2.5" stroke-linejoin="round"/>
<line x1="207" y1="327.8" x2="250.74" y2="311.84" stroke="#fff" stroke-width="3.5"/>
<polygon points="263.44,307.21 249.95,316.92 250.74,311.84 246.86,308.46" fill="#fff" stroke="#fff" stroke-width="2.5" stroke-linejoin="round"/>
<line x1="371" y1="261.5" x2="354.67" y2="249.19" stroke="#fff" stroke-width="3.5"/>
<polygon points="343.88,241.06 359.37,247.1 354.67,249.19 353.95,254.28" fill="#fff" stroke="#fff" stroke-width="2.5" stroke-linejoin="round"/>
<line x1="362.4" y1="310.5" x2="329.82" y2="296.93" stroke="#fff" stroke-width="3.5"/>
<polygon points="317.35,291.73 333.85,293.73 329.82,296.93 330.39,302.04" fill="#fff" stroke="#fff" stroke-width="2.5" stroke-linejoin="round"/>
<line x1="449.5" y1="35" x2="449.5" y2="54.69" stroke="#fff" stroke-width="3.5"/>
<polygon points="449.5,68.2 445,52.2 449.5,54.69 454,52.2" fill="#fff" stroke="#fff" stroke-width="2.5" stroke-linejoin="round"/>
<line x1="507" y1="43.5" x2="479.05" y2="69.41" stroke="#fff" stroke-width="3.5"/>
<polygon points="469.14,78.59 477.82,64.42 479.05,69.41 483.93,71.02" fill="#fff" stroke="#fff" stroke-width="2.5" stroke-linejoin="round"/>
<line x1="576.8" y1="48.6" x2="549" y2="75.15" stroke="#fff" stroke-width="3.5"/>
<polygon points="539.23,84.49 547.7,70.18 549,75.15 553.91,76.69" fill="#fff" stroke="#fff" stroke-width="2.5" stroke-linejoin="round"/>
<line x1="376.6" y1="72.7" x2="407.67" y2="94.02" stroke="#fff" stroke-width="3.5"/>
<polygon points="418.81,101.66 403.07,96.32 407.67,94.02 408.16,88.9" fill="#fff" stroke="#fff" stroke-width="2.5" stroke-linejoin="round"/>
<line x1="393.2" y1="116.9" x2="456.18" y2="129.94" stroke="#fff" stroke-width="3.5"/>
<polygon points="469.41,132.68 452.83,133.84 456.18,129.94 454.66,125.03" fill="#fff" stroke="#fff" stroke-width="2.5" stroke-linejoin="round"/>
<line x1="390.7" y1="157" x2="457.41" y2="145" stroke="#fff" stroke-width="3.5"/>
<polygon points="470.71,142.61 455.76,149.87 457.41,145 454.17,141.01" fill="#fff" stroke="#fff" stroke-width="2.5" stroke-linejoin="round"/>
<line x1="623.9" y1="56.8" x2="560.62" y2="102.71" stroke="#fff" stroke-width="3.5"/>
<polygon points="549.69,110.65 559.99,97.61 560.62,102.71 565.28,104.89" fill="#fff" stroke="#fff" stroke-width="2.5" stroke-linejoin="round"/>
<line x1="623.9" y1="79.7" x2="558.61" y2="127.2" stroke="#fff" stroke-width="3.5"/>
<polygon points="547.69,135.15 557.98,122.1 558.61,127.2 563.27,129.37" fill="#fff" stroke="#fff" stroke-width="2.5" stroke-linejoin="round"/>
<line x1="617.7" y1="118.2" x2="581.85" y2="131.34" stroke="#fff" stroke-width="3.5"/>
<polygon points="569.16,135.99 582.64,126.26 581.85,131.34 585.73,134.71" fill="#fff" stroke="#fff" stroke-width="2.5" stroke-linejoin="round"/>
<line x1="624.9" y1="147.9" x2="561.84" y2="164.67" stroke="#fff" stroke-width="3.5"/>
<polygon points="548.78,168.15 563.09,159.68 561.84,164.67 565.4,168.38" fill="#fff" stroke="#fff" stroke-width="2.5" stroke-linejoin="round"/>
<line x1="619.8" y1="170.2" x2="558.9" y2="183.24" stroke="#fff" stroke-width="3.5"/>
<polygon points="545.69,186.07 560.39,178.32 558.9,183.24 562.27,187.12" fill="#fff" stroke="#fff" stroke-width="2.5" stroke-linejoin="round"/>
<line x1="620.8" y1="198.5" x2="562.31" y2="198.5" stroke="#fff" stroke-width="3.5"/>
<polygon points="548.8,198.5 564.8,194 562.31,198.5 564.8,203" fill="#fff" stroke="#fff" stroke-width="2.5" stroke-linejoin="round"/>
<line x1="640.3" y1="225.1" x2="592.82" y2="217.13" stroke="#fff" stroke-width="3.5"/>
<polygon points="579.49,214.9 596.02,213.11 592.82,217.13 594.53,221.98" fill="#fff" stroke="#fff" stroke-width="2.5" stroke-linejoin="round"/>
<line x1="635.1" y1="250" x2="568.53" y2="225.31" stroke="#fff" stroke-width="3.5"/>
<polygon points="555.86,220.61 572.43,221.95 568.53,225.31 569.3,230.39" fill="#fff" stroke="#fff" stroke-width="2.5" stroke-linejoin="round"/>
<line x1="635.1" y1="270.5" x2="568.58" y2="246.58" stroke="#fff" stroke-width="3.5"/>
<polygon points="555.86,242 572.44,243.18 568.58,246.58 569.4,251.65" fill="#fff" stroke="#fff" stroke-width="2.5" stroke-linejoin="round"/>
<line x1="634.1" y1="300.2" x2="567.52" y2="275.42" stroke="#fff" stroke-width="3.5"/>
<polygon points="554.86,270.71 571.43,272.07 567.52,275.42 568.29,280.51" fill="#fff" stroke="#fff" stroke-width="2.5" stroke-linejoin="round"/>
<line x1="419.5" y1="222" x2="464.65" y2="237.44" stroke="#fff" stroke-width="3.5"/>
<polygon points="477.43,241.81 460.84,240.89 464.65,237.44 463.75,232.37" fill="#fff" stroke="#fff" stroke-width="2.5" stroke-linejoin="round"/>
<line x1="407.6" y1="298.2" x2="467.82" y2="311.55" stroke="#fff" stroke-width="3.5"/>
<polygon points="481.01,314.47 464.42,315.4 467.82,311.55 466.37,306.61" fill="#fff" stroke="#fff" stroke-width="2.5" stroke-linejoin="round"/>
<line x1="422.9" y1="347.3" x2="467.42" y2="330.25" stroke="#fff" stroke-width="3.5"/>
<polygon points="480.04,325.41 466.71,335.34 467.42,330.25 463.49,326.94" fill="#fff" stroke="#fff" stroke-width="2.5" stroke-linejoin="round"/>
<line x1="434.2" y1="372.9" x2="474.05" y2="347.16" stroke="#fff" stroke-width="3.5"/>
<polygon points="485.4,339.83 474.4,352.29 474.05,347.16 469.51,344.73" fill="#fff" stroke="#fff" stroke-width="2.5" stroke-linejoin="round"/>
<line x1="598.8" y1="377.1" x2="565.03" y2="338.07" stroke="#fff" stroke-width="3.5"/>
<polygon points="556.19,327.85 570.06,337.01 565.03,338.07 563.26,342.9" fill="#fff" stroke="#fff" stroke-width="2.5" stroke-linejoin="round"/>
<line x1="588.5" y1="403.1" x2="554.78" y2="363.72" stroke="#fff" stroke-width="3.5"/>
<polygon points="545.99,353.46 559.82,362.68 554.78,363.72 552.98,368.54" fill="#fff" stroke="#fff" stroke-width="2.5" stroke-linejoin="round"/>
<line x1="591.6" y1="444" x2="537.84" y2="431.5" stroke="#fff" stroke-width="3.5"/>
<polygon points="524.68,428.44 541.29,427.68 537.84,431.5 539.25,436.44" fill="#fff" stroke="#fff" stroke-width="2.5" stroke-linejoin="round"/>
<line x1="407.3" y1="544.2" x2="442.12" y2="555.02" stroke="#fff" stroke-width="3.5"/>
<polygon points="455.03,559.02 438.41,558.57 442.12,555.02 441.08,549.98" fill="#fff" stroke="#fff" stroke-width="2.5" stroke-linejoin="round"/>
<line x1="592.3" y1="579.9" x2="544.39" y2="594.65" stroke="#fff" stroke-width="3.5"/>
<polygon points="531.47,598.62 545.44,589.62 544.39,594.65 548.09,598.22" fill="#fff" stroke="#fff" stroke-width="2.5" stroke-linejoin="round"/>
<line x1="594.8" y1="611.6" x2="543.98" y2="608.15" stroke="#fff" stroke-width="3.5"/>
<polygon points="530.5,607.24 546.77,603.83 543.98,608.15 546.16,612.81" fill="#fff" stroke="#fff" stroke-width="2.5" stroke-linejoin="round"/>
<line x1="590.7" y1="636.2" x2="547.6" y2="620.92" stroke="#fff" stroke-width="3.5"/>
<polygon points="534.87,616.4 551.45,617.51 547.6,620.92 548.44,625.99" fill="#fff" stroke="#fff" stroke-width="2.5" stroke-linejoin="round"/>
<line x1="628.1" y1="684.2" x2="585.21" y2="676.95" stroke="#fff" stroke-width="3.5"/>
<polygon points="571.89,674.7 588.42,672.93 585.21,676.95 586.92,681.8" fill="#fff" stroke="#fff" stroke-width="2.5" stroke-linejoin="round"/>
<line x1="489.5" y1="702" x2="502.23" y2="661.95" stroke="#fff" stroke-width="3.5"/>
<polygon points="506.32,649.07 505.76,665.68 502.23,661.95 497.18,662.96" fill="#fff" stroke="#fff" stroke-width="2.5" stroke-linejoin="round"/>
<line x1="213.6" y1="605.8" x2="189.33" y2="593.27" stroke="#fff" stroke-width="2.2"/>
<polygon points="183.13,590.08 191.53,591.26 189.33,593.27 188.96,596.23" fill="#fff" stroke="#fff" stroke-width="1.5" stroke-linejoin="round"/>
<line x1="191.1" y1="651.8" x2="175.28" y2="627.91" stroke="#fff" stroke-width="2.2"/>
<polygon points="171.43,622.1 178.18,627.22 175.28,627.91 173.51,630.32" fill="#fff" stroke="#fff" stroke-width="1.5" stroke-linejoin="round"/>
<line x1="185" y1="697.9" x2="139.21" y2="688.35" stroke="#fff" stroke-width="2.2"/>
<polygon points="132.39,686.92 140.79,685.82 139.21,688.35 139.65,691.3" fill="#fff" stroke="#fff" stroke-width="1.5" stroke-linejoin="round"/>
<line x1="169.3" y1="748.7" x2="152.97" y2="724.01" stroke="#fff" stroke-width="2.2"/>
<polygon points="149.13,718.2 155.88,723.33 152.97,724.01 151.21,726.42" fill="#fff" stroke="#fff" stroke-width="1.5" stroke-linejoin="round"/>
<line x1="403.9" y1="605.7" x2="379.63" y2="594.15" stroke="#fff" stroke-width="2.2"/>
<polygon points="373.34,591.16 381.77,592.07 379.63,594.15 379.36,597.12" fill="#fff" stroke="#fff" stroke-width="1.5" stroke-linejoin="round"/>
<line x1="383.5" y1="659.4" x2="367.83" y2="634.5" stroke="#fff" stroke-width="2.2"/>
<polygon points="364.12,628.61 370.75,633.89 367.83,634.5 366.01,636.87" fill="#fff" stroke="#fff" stroke-width="1.5" stroke-linejoin="round"/>
<line x1="371.6" y1="718.6" x2="326.22" y2="709.4" stroke="#fff" stroke-width="2.2"/>
<polygon points="319.39,708.02 327.78,706.86 326.22,709.4 326.67,712.35" fill="#fff" stroke="#fff" stroke-width="1.5" stroke-linejoin="round"/>
<line x1="326.2" y1="753.3" x2="319.1" y2="741.05" stroke="#fff" stroke-width="2.2"/>
<polygon points="315.6,735.02 322.04,740.54 319.1,741.05 317.19,743.34" fill="#fff" stroke="#fff" stroke-width="1.5" stroke-linejoin="round"/>
</g>
<g id="arrows">
<line x1="198.8" y1="39" x2="233.92" y2="68.69" stroke="#000" stroke-width="1.5"/>
<polygon points="244.24,77.41 229.12,70.52 233.92,68.69 234.93,63.65" fill="#000" stroke="#000" stroke-width="0.5" stroke-linejoin="miter"/>
<line x1="158.9" y1="129.7" x2="203.29" y2="129.7" stroke="#000" stroke-width="1.5"/>
<polygon points="216.8,129.7 200.8,134.2 203.29,129.7 200.8,125.2" fill="#000" stroke="#000" stroke-width="0.5" stroke-linejoin="miter"/>
<line x1="177.3" y1="185.5" x2="221.38" y2="200.86" stroke="#000" stroke-width="1.5"/>
<polygon points="234.13,205.3 217.54,204.29 221.38,200.86 220.5,195.79" fill="#000" stroke="#000" stroke-width="0.5" stroke-linejoin="miter"/>
<line x1="171.3" y1="218.8" x2="214.58" y2="231.75" stroke="#000" stroke-width="1.5"/>
<polygon points="227.53,235.63 210.91,235.35 214.58,231.75 213.49,226.73" fill="#000" stroke="#000" stroke-width="0.5" stroke-linejoin="miter"/>
<line x1="207" y1="327.8" x2="250.74" y2="311.84" stroke="#000" stroke-width="1.5"/>
<polygon points="263.44,307.21 249.95,316.92 250.74,311.84 246.86,308.46" fill="#000" stroke="#000" stroke-width="0.5" stroke-linejoin="miter"/>
<line x1="371" y1="261.5" x2="354.67" y2="249.19" stroke="#000" stroke-width="1.5"/>
<polygon points="343.88,241.06 359.37,247.1 354.67,249.19 353.95,254.28" fill="#000" stroke="#000" stroke-width="0.5" stroke-linejoin="miter"/>
<line x1="362.4" y1="310.5" x2="329.82" y2="296.93" stroke="#000" stroke-width="1.5"/>
<polygon points="317.35,291.73 333.85,293.73 329.82,296.93 330.39,302.04" fill="#000" stroke="#000" stroke-width="0.5" stroke-linejoin="miter"/>
<line x1="449.5" y1="35" x2="449.5" y2="54.69" stroke="#000" stroke-width="1.5"/>
<polygon points="449.5,68.2 445,52.2 449.5,54.69 454,52.2" fill="#000" stroke="#000" stroke-width="0.5" stroke-linejoin="miter"/>
<line x1="507" y1="43.5" x2="479.05" y2="69.41" stroke="#000" stroke-width="1.5"/>
<polygon points="469.14,78.59 477.82,64.42 479.05,69.41 483.93,71.02" fill="#000" stroke="#000" stroke-width="0.5" stroke-linejoin="miter"/>
<line x1="576.8" y1="48.6" x2="549" y2="75.15" stroke="#000" stroke-width="1.5"/>
<polygon points="539.23,84.49 547.7,70.18 549,75.15 553.91,76.69" fill="#000" stroke="#000" stroke-width="0.5" stroke-linejoin="miter"/>
<line x1="376.6" y1="72.7" x2="407.67" y2="94.02" stroke="#000" stroke-width="1.5"/>
<polygon points="418.81,101.66 403.07,96.32 407.67,94.02 408.16,88.9" fill="#000" stroke="#000" stroke-width="0.5" stroke-linejoin="miter"/>
<line x1="393.2" y1="116.9" x2="456.18" y2="129.94" stroke="#000" stroke-width="1.5"/>
<polygon points="469.41,132.68 452.83,133.84 456.18,129.94 454.66,125.03" fill="#000" stroke="#000" stroke-width="0.5" stroke-linejoin="miter"/>
<line x1="390.7" y1="157" x2="457.41" y2="145" stroke="#000" stroke-width="1.5"/>
<polygon points="470.71,142.61 455.76,149.87 457.41,145 454.17,141.01" fill="#000" stroke="#000" stroke-width="0.5" stroke-linejoin="miter"/>
<line x1="623.9" y1="56.8" x2="560.62" y2="102.71" stroke="#000" stroke-width="1.5"/>
<polygon points="549.69,110.65 559.99,97.61 560.62,102.71 565.28,104.89" fill="#000" stroke="#000" stroke-width="0.5" stroke-linejoin="miter"/>
<line x1="623.9" y1="79.7" x2="558.61" y2="127.2" stroke="#000" stroke-width="1.5"/>
<polygon points="547.69,135.15 557.98,122.1 558.61,127.2 563.27,129.37" fill="#000" stroke="#000" stroke-width="0.5" stroke-linejoin="miter"/>
<line x1="617.7" y1="118.2" x2="581.85" y2="131.34" stroke="#000" stroke-width="1.5"/>
<polygon points="569.16,135.99 582.64,126.26 581.85,131.34 585.73,134.71" fill="#000" stroke="#000" stroke-width="0.5" stroke-linejoin="miter"/>
<line x1="624.9" y1="147.9" x2="561.84" y2="164.67" stroke="#000" stroke-width="1.5"/>
<polygon points="548.78,168.15 563.09,159.68 561.84,164.67 565.4,168.38" fill="#000" stroke="#000" stroke-width="0.5" stroke-linejoin="miter"/>
<line x1="619.8" y1="170.2" x2="558.9" y2="183.24" stroke="#000" stroke-width="1.5"/>
<polygon points="545.69,186.07 560.39,178.32 558.9,183.24 562.27,187.12" fill="#000" stroke="#000" stroke-width="0.5" stroke-linejoin="miter"/>
<line x1="620.8" y1="198.5" x2="562.31" y2="198.5" stroke="#000" stroke-width="1.5"/>
<polygon points="548.8,198.5 564.8,194 562.31,198.5 564.8,203" fill="#000" stroke="#000" stroke-width="0.5" stroke-linejoin="miter"/>
<line x1="640.3" y1="225.1" x2="592.82" y2="217.13" stroke="#000" stroke-width="1.5"/>
<polygon points="579.49,214.9 596.02,213.11 592.82,217.13 594.53,221.98" fill="#000" stroke="#000" stroke-width="0.5" stroke-linejoin="miter"/>
<line x1="635.1" y1="250" x2="568.53" y2="225.31" stroke="#000" stroke-width="1.5"/>
<polygon points="555.86,220.61 572.43,221.95 568.53,225.31 569.3,230.39" fill="#000" stroke="#000" stroke-width="0.5" stroke-linejoin="miter"/>
<line x1="635.1" y1="270.5" x2="568.58" y2="246.58" stroke="#000" stroke-width="1.5"/>
<polygon points="555.86,242 572.44,243.18 568.58,246.58 569.4,251.65" fill="#000" stroke="#000" stroke-width="0.5" stroke-linejoin="miter"/>
<line x1="634.1" y1="300.2" x2="567.52" y2="275.42" stroke="#000" stroke-width="1.5"/>
<polygon points="554.86,270.71 571.43,272.07 567.52,275.42 568.29,280.51" fill="#000" stroke="#000" stroke-width="0.5" stroke-linejoin="miter"/>
<line x1="419.5" y1="222" x2="464.65" y2="237.44" stroke="#000" stroke-width="1.5"/>
<polygon points="477.43,241.81 460.84,240.89 464.65,237.44 463.75,232.37" fill="#000" stroke="#000" stroke-width="0.5" stroke-linejoin="miter"/>
<line x1="407.6" y1="298.2" x2="467.82" y2="311.55" stroke="#000" stroke-width="1.5"/>
<polygon points="481.01,314.47 464.42,315.4 467.82,311.55 466.37,306.61" fill="#000" stroke="#000" stroke-width="0.5" stroke-linejoin="miter"/>
<line x1="422.9" y1="347.3" x2="467.42" y2="330.25" stroke="#000" stroke-width="1.5"/>
<polygon points="480.04,325.41 466.71,335.34 467.42,330.25 463.49,326.94" fill="#000" stroke="#000" stroke-width="0.5" stroke-linejoin="miter"/>
<line x1="434.2" y1="372.9" x2="474.05" y2="347.16" stroke="#000" stroke-width="1.5"/>
<polygon points="485.4,339.83 474.4,352.29 474.05,347.16 469.51,344.73" fill="#000" stroke="#000" stroke-width="0.5" stroke-linejoin="miter"/>
<line x1="598.8" y1="377.1" x2="565.03" y2="338.07" stroke="#000" stroke-width="1.5"/>
<polygon points="556.19,327.85 570.06,337.01 565.03,338.07 563.26,342.9" fill="#000" stroke="#000" stroke-width="0.5" stroke-linejoin="miter"/>
<line x1="588.5" y1="403.1" x2="554.78" y2="363.72" stroke="#000" stroke-width="1.5"/>
<polygon points="545.99,353.46 559.82,362.68 554.78,363.72 552.98,368.54" fill="#000" stroke="#000" stroke-width="0.5" stroke-linejoin="miter"/>
<line x1="591.6" y1="444" x2="537.84" y2="431.5" stroke="#000" stroke-width="1.5"/>
<polygon points="524.68,428.44 541.29,427.68 537.84,431.5 539.25,436.44" fill="#000" stroke="#000" stroke-width="0.5" stroke-linejoin="miter"/>
<line x1="407.3" y1="544.2" x2="442.12" y2="555.02" stroke="#000" stroke-width="1.5"/>
<polygon points="455.03,559.02 438.41,558.57 442.12,555.02 441.08,549.98" fill="#000" stroke="#000" stroke-width="0.5" stroke-linejoin="miter"/>
<line x1="592.3" y1="579.9" x2="544.39" y2="594.65" stroke="#000" stroke-width="1.5"/>
<polygon points="531.47,598.62 545.44,589.62 544.39,594.65 548.09,598.22" fill="#000" stroke="#000" stroke-width="0.5" stroke-linejoin="miter"/>
<line x1="594.8" y1="611.6" x2="543.98" y2="608.15" stroke="#000" stroke-width="1.5"/>
<polygon points="530.5,607.24 546.77,603.83 543.98,608.15 546.16,612.81" fill="#000" stroke="#000" stroke-width="0.5" stroke-linejoin="miter"/>
<line x1="590.7" y1="636.2" x2="547.6" y2="620.92" stroke="#000" stroke-width="1.5"/>
<polygon points="534.87,616.4 551.45,617.51 547.6,620.92 548.44,625.99" fill="#000" stroke="#000" stroke-width="0.5" stroke-linejoin="miter"/>
<line x1="628.1" y1="684.2" x2="585.21" y2="676.95" stroke="#000" stroke-width="1.5"/>
<polygon points="571.89,674.7 588.42,672.93 585.21,676.95 586.92,681.8" fill="#000" stroke="#000" stroke-width="0.5" stroke-linejoin="miter"/>
<line x1="489.5" y1="702" x2="502.23" y2="661.95" stroke="#000" stroke-width="1.5"/>
<polygon points="506.32,649.07 505.76,665.68 502.23,661.95 497.18,662.96" fill="#000" stroke="#000" stroke-width="0.5" stroke-linejoin="miter"/>
<line x1="213.6" y1="605.8" x2="189.33" y2="593.27" stroke="#000" stroke-width="1.0"/>
<polygon points="183.13,590.08 191.53,591.26 189.33,593.27 188.96,596.23" fill="#000" stroke="#000" stroke-width="0.3" stroke-linejoin="miter"/>
<line x1="191.1" y1="651.8" x2="175.28" y2="627.91" stroke="#000" stroke-width="1.0"/>
<polygon points="171.43,622.1 178.18,627.22 175.28,627.91 173.51,630.32" fill="#000" stroke="#000" stroke-width="0.3" stroke-linejoin="miter"/>
<line x1="185" y1="697.9" x2="139.21" y2="688.35" stroke="#000" stroke-width="1.0"/>
<polygon points="132.39,686.92 140.79,685.82 139.21,688.35 139.65,691.3" fill="#000" stroke="#000" stroke-width="0.3" stroke-linejoin="miter"/>
<line x1="169.3" y1="748.7" x2="152.97" y2="724.01" stroke="#000" stroke-width="1.0"/>
<polygon points="149.13,718.2 155.88,723.33 152.97,724.01 151.21,726.42" fill="#000" stroke="#000" stroke-width="0.3" stroke-linejoin="miter"/>
<line x1="403.9" y1="605.7" x2="379.63" y2="594.15" stroke="#000" stroke-width="1.0"/>
<polygon points="373.34,591.16 381.77,592.07 379.63,594.15 379.36,597.12" fill="#000" stroke="#000" stroke-width="0.3" stroke-linejoin="miter"/>
<line x1="383.5" y1="659.4" x2="367.83" y2="634.5" stroke="#000" stroke-width="1.0"/>
<polygon points="364.12,628.61 370.75,633.89 367.83,634.5 366.01,636.87" fill="#000" stroke="#000" stroke-width="0.3" stroke-linejoin="miter"/>
<line x1="371.6" y1="718.6" x2="326.22" y2="709.4" stroke="#000" stroke-width="1.0"/>
<polygon points="319.39,708.02 327.78,706.86 326.22,709.4 326.67,712.35" fill="#000" stroke="#000" stroke-width="0.3" stroke-linejoin="miter"/>
<line x1="326.2" y1="753.3" x2="319.1" y2="741.05" stroke="#000" stroke-width="1.0"/>
<polygon points="315.6,735.02 322.04,740.54 319.1,741.05 317.19,743.34" fill="#000" stroke="#000" stroke-width="0.3" stroke-linejoin="miter"/>
</g>
</g>
<ellipse cx="455.65" cy="556.75" rx="28.85" ry="28.55" fill="none" stroke="#ed1c24" stroke-width="4.8"/>
</svg>
</body></html>
